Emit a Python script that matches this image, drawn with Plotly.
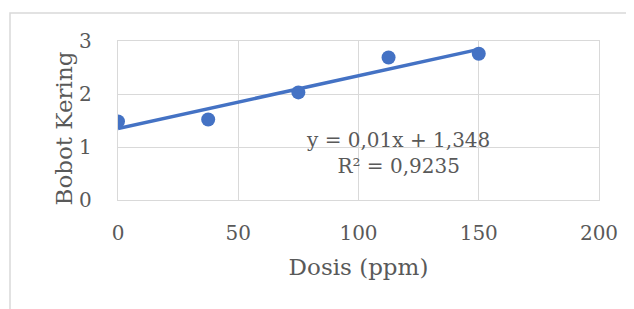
import numpy as np
import plotly.graph_objects as go

dosis = [0, 37.5, 75, 112.5, 150]
bobot_kering = [1.48, 1.52, 2.03, 2.69, 2.76]
x_ticks = [0, 50, 100, 150, 200]
y_ticks = [0, 1, 2, 3]
eq_text = "y = 0,01x + 1,348<br>R² = 0,9235"

blue = "#4472C4"
grey_text = "#595959"
grid = "#d9d9d9"
font_family = "DejaVu Serif, Liberation Serif, serif"

slope, intercept = np.polyfit(dosis, bobot_kering, 1)
trend_x = [min(dosis), max(dosis)]
trend_y = [slope * v + intercept for v in trend_x]

fig = go.Figure()
fig.add_trace(go.Scatter(x=trend_x, y=trend_y, mode="lines",
                         line=dict(color=blue, width=3.5), showlegend=False,
                         hoverinfo="skip"))
fig.add_trace(go.Scatter(x=dosis, y=bobot_kering, mode="markers",
                         marker=dict(color=blue, size=14), showlegend=False))

fig.add_annotation(x=0.582, y=0.296, xref="paper", yref="paper", text=eq_text,
                   showarrow=False, font=dict(family=font_family, size=20, color=grey_text),
                   align="center", xanchor="center", yanchor="middle")

fig.add_annotation(x=-55 / 481, y=(200 - 128.5) / 159, xref="paper", yref="paper",
                   text="Bobot Kering", textangle=-90, showarrow=False,
                   font=dict(family=font_family, size=23, color=grey_text),
                   xanchor="center", yanchor="middle")

# outer chart border
fig.add_shape(type="rect", xref="paper", yref="paper",
              x0=(10 - 118) / 481, x1=1.3, y0=-0.9, y1=(200 - 13) / 159,
              line=dict(color=grid, width=1.5), fillcolor="rgba(0,0,0,0)", layer="below")

fig.update_layout(
    width=634, height=309,
    margin=dict(l=110, r=43, t=33, b=117),
    paper_bgcolor="white", plot_bgcolor="white",
    font=dict(family=font_family, color=grey_text, size=20),
    xaxis=dict(range=[0, 200], tickvals=x_ticks, showgrid=True, gridcolor=grid,
               gridwidth=1.3, zeroline=False, showline=True, linecolor=grid, linewidth=1.3,
               mirror=True, ticks="", ticklabelstandoff=15, automargin=False,
               tickfont=dict(size=20, color=grey_text),
               title=dict(text="Dosis (ppm)", font=dict(size=23, color=grey_text), standoff=14)),
    yaxis=dict(range=[0, 3], tickvals=y_ticks, showgrid=True, gridcolor=grid,
               gridwidth=1.3, zeroline=False, showline=True, linecolor=grid, linewidth=1.3,
               mirror=True, ticks="", ticklabelstandoff=21, automargin=False,
               tickfont=dict(size=20, color=grey_text)),
)

fig.write_html("out.html")
